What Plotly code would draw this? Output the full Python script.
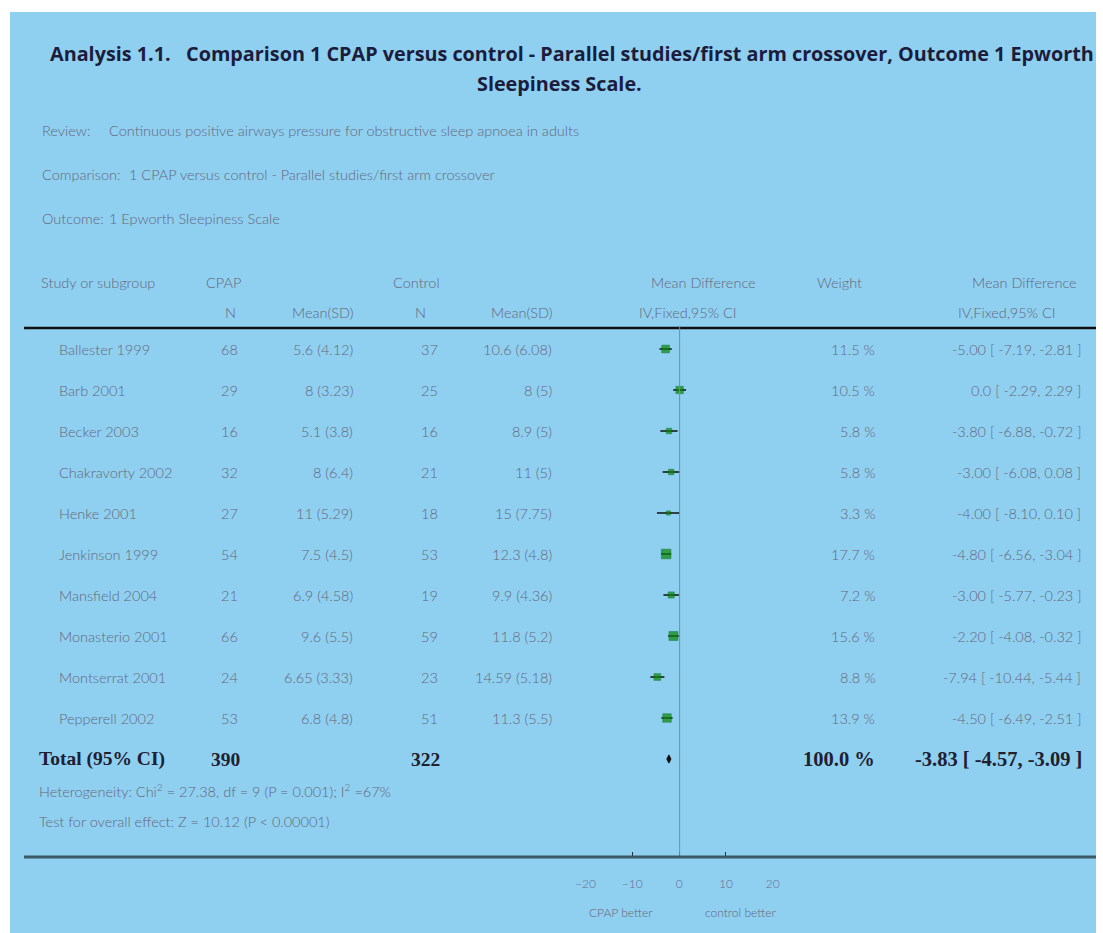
import plotly.graph_objects as go

# ---- study data -------------------------------------------------------
studies = ["Ballester 1999", "Barb 2001", "Becker 2003", "Chakravorty 2002",
           "Henke 2001", "Jenkinson 1999", "Mansfield 2004", "Monasterio 2001",
           "Montserrat 2001", "Pepperell 2002"]
cpap_n = [68, 29, 16, 32, 27, 54, 21, 66, 24, 53]
cpap_mean = [5.6, 8, 5.1, 8, 11, 7.5, 6.9, 9.6, 6.65, 6.8]
cpap_sd = [4.12, 3.23, 3.8, 6.4, 5.29, 4.5, 4.58, 5.5, 3.33, 4.8]
ctrl_n = [37, 25, 16, 21, 18, 53, 19, 59, 23, 51]
ctrl_mean = [10.6, 8, 8.9, 11, 15, 12.3, 9.9, 11.8, 14.59, 11.3]
ctrl_sd = [6.08, 5, 5, 5, 7.75, 4.8, 4.36, 5.2, 5.18, 5.5]
md = [-5.00, 0.0, -3.80, -3.00, -4.00, -4.80, -3.00, -2.20, -7.94, -4.50]
ci_lo = [-7.19, -2.29, -6.88, -6.08, -8.10, -6.56, -5.77, -4.08, -10.44, -6.49]
ci_hi = [-2.81, 2.29, -0.72, 0.08, 0.10, -3.04, -0.23, -0.32, -5.44, -2.51]
weight = [11.5, 10.5, 5.8, 5.8, 3.3, 17.7, 7.2, 15.6, 8.8, 13.9]

total_cpap_n = 390
total_ctrl_n = 322
total_md = -3.83
total_lo = -4.57
total_hi = -3.09
total_weight = 100.0

axis_ticks = [-20, -10, 0, 10, 20]

title_line1 = ("Analysis 1.1.   Comparison 1 CPAP versus control - Parallel studies/first arm "
               "crossover, Outcome 1 Epworth")
title_line2 = "Sleepiness Scale."
review = "Continuous positive airways pressure for obstructive sleep apnoea in adults"
comparison = "1 CPAP versus control - Parallel studies/first arm crossover"
outcome = "1 Epworth Sleepiness Scale"
heterogeneity = "Heterogeneity: Chi<sup>2</sup> = 27.38, df = 9 (P = 0.001); I<sup>2</sup> =67%"
overall = "Test for overall effect: Z = 10.12 (P < 0.00001)"

# ---- page geometry ----------------------------------------------------
W, H = 1103, 933
# horizontal layout grid: design units 10..1095 span the full paper width
X0, XW = 10, 1085
ROW0, ROWH = 349, 41          # first study row and row pitch (px)
BLUE = "#8fd0f0"
GREY = "#66667c"
DARK = "#1c1c3c"
BOLDTXT = "#202030"
SANS = "Lato, 'Open Sans', sans-serif"
TITLE_FONT = "'Open Sans', 'Noto Sans', sans-serif"
SERIF = "'Liberation Serif', 'DejaVu Serif', serif"
FS = 14.5


def px(x):
    return (x - X0) / XW


def py(y):
    return 1 - y / H


def row_y(i):
    return py(ROW0 + ROWH * i)


def fmt_md(v):
    return "0.0" if v == 0 else f"{v:.2f}"


annotations = []


def text(x, y, s, anchor="left", size=FS, color=GREY, family=SANS, bold=False,
         weight=300):
    if bold:
        s = f"<b>{s}</b>"
    annotations.append(dict(x=x, y=y, xref="paper", yref="paper", text=s,
                            xanchor=anchor, yanchor="middle", showarrow=False,
                            font=dict(size=size, color=color, family=family,
                                      weight=weight)))


# title and header block
text(px(571), py(54), title_line1, "center", 19.8, DARK, TITLE_FONT, True, 400)
text(px(559), py(83), title_line2, "center", 19.8, DARK, TITLE_FONT, True, 400)
text(px(40), py(131), "Review:")
text(px(107), py(131), review)
text(px(40), py(175), "Comparison:")
text(px(127), py(175), comparison)
text(px(40), py(218), "Outcome:")
text(px(107), py(218), outcome)

# column headers
text(px(39), py(282), "Study or subgroup")
text(px(243), py(282), "CPAP", "right")
text(px(442), py(282), "Control", "right")
text(px(703), py(282), "Mean Difference", "center")
text(px(839), py(282), "Weight", "center")
text(px(1078), py(282), "Mean Difference", "right")
text(px(238), py(312), "N", "right")
text(px(355), py(312), "Mean(SD)", "right")
text(px(428), py(312), "N", "right")
text(px(553), py(312), "Mean(SD)", "right")
text(px(687), py(312), "IV,Fixed,95% CI", "center")
text(px(1057), py(312), "IV,Fixed,95% CI", "right")

# study rows
for i, name in enumerate(studies):
    y = row_y(i)
    text(px(57), y, name)
    text(px(240), y, str(cpap_n[i]), "right")
    text(px(355), y, f"{cpap_mean[i]:g} ({cpap_sd[i]:g})", "right")
    text(px(440), y, str(ctrl_n[i]), "right")
    text(px(553), y, f"{ctrl_mean[i]:g} ({ctrl_sd[i]:g})", "right")
    text(px(876), y, f"{weight[i]:.1f} %", "right")
    text(px(1082), y, f"{fmt_md(md[i])} [ {fmt_md(ci_lo[i])}, {fmt_md(ci_hi[i])} ]", "right")

# pooled row
ty = row_y(len(studies))
TS = 19.5
text(px(37), ty, "Total (95% CI)", size=TS, color=BOLDTXT, family=SERIF, bold=True, weight=400)
text(px(242), ty, str(total_cpap_n), "right", TS, BOLDTXT, SERIF, True, 400)
text(px(442), ty, str(total_ctrl_n), "right", TS, BOLDTXT, SERIF, True, 400)
text(px(876), ty, f"{total_weight:.1f} %", "right", 20.5, BOLDTXT, SERIF, True, 400)
text(px(1083), ty, f"{total_md:.2f} [ {total_lo:.2f}, {total_hi:.2f} ]", "right", 20.5,
     BOLDTXT, SERIF, True, 400)

text(px(37), py(790), heterogeneity)
text(px(37), py(821), overall)
text(px(620), py(912), "CPAP better", "center", 12)
text(px(740), py(912), "control better", "center", 12)

# ---- forest marks -----------------------------------------------------
fig = go.Figure()
rows = list(range(len(studies)))
fig.add_trace(go.Scatter(
    x=md, y=rows, mode="markers",
    marker=dict(symbol="square", color="#078707",
                size=[2.3 * w ** 0.5 for w in weight],
                line=dict(width=0.5, color="#035a03")),
    error_x=dict(type="data", symmetric=False,
                 array=[h - m for h, m in zip(ci_hi, md)],
                 arrayminus=[m - l for m, l in zip(md, ci_lo)],
                 width=0, thickness=1.4, color="#101010"),
    hoverinfo="skip", showlegend=False))

# pooled diamond
tr = len(studies)
fig.add_trace(go.Scatter(
    x=[total_lo, total_md, total_hi, total_md, total_lo],
    y=[tr, tr - 0.1, tr, tr + 0.1, tr],
    mode="lines", fill="toself", fillcolor="#111111",
    line=dict(color="#111111", width=1), hoverinfo="skip", showlegend=False))

# tick axis carrier (invisible)
fig.add_trace(go.Scatter(x=axis_ticks, y=[0] * len(axis_ticks), xaxis="x2",
                         mode="markers", marker=dict(opacity=0), hoverinfo="skip",
                         showlegend=False))

# ---- layout -----------------------------------------------------------
plot_dom = [px(585), px(772)]
scale = 2.8  # design px per unit on the marker axis
zero_px = 679
shapes = [
    dict(type="rect", xref="paper", yref="paper", x0=px(10), x1=1, y0=0, y1=py(12),
         fillcolor=BLUE, line=dict(width=0), layer="below"),
    dict(type="line", xref="paper", yref="paper", x0=px(24), x1=px(1095),
         y0=py(328), y1=py(328), line=dict(color="#101010", width=2.5)),
    dict(type="line", xref="x", yref="paper", x0=0, x1=0, y0=py(857), y1=py(326),
         line=dict(color="#7d8b92", width=1)),
    dict(type="line", xref="paper", yref="paper", x0=px(24), x1=px(1095),
         y0=py(857), y1=py(857), line=dict(color="#3c5866", width=3)),
]

fig.update_layout(
    width=W, height=H, margin=dict(l=0, r=0, t=0, b=0),
    paper_bgcolor="white", plot_bgcolor="rgba(0,0,0,0)",
    xaxis=dict(domain=plot_dom, range=[(585 - zero_px) / scale, (772 - zero_px) / scale],
               visible=False, fixedrange=True),
    xaxis2=dict(overlaying="x", anchor="free", position=py(857), range=[-20, 20],
                tickvals=axis_ticks, ticks="inside", ticklen=5, tickwidth=1,
                tickcolor="#203040", showline=False, showgrid=False, zeroline=False,
                ticklabelstandoff=18,
                tickfont=dict(size=12, color="#6a6a90", family=SANS, weight=300)),
    yaxis=dict(domain=[0, 1], range=[(H - ROW0) / ROWH, -ROW0 / ROWH], visible=False,
               fixedrange=True),
    shapes=shapes, annotations=annotations,
)

fig.write_html("out.html")
